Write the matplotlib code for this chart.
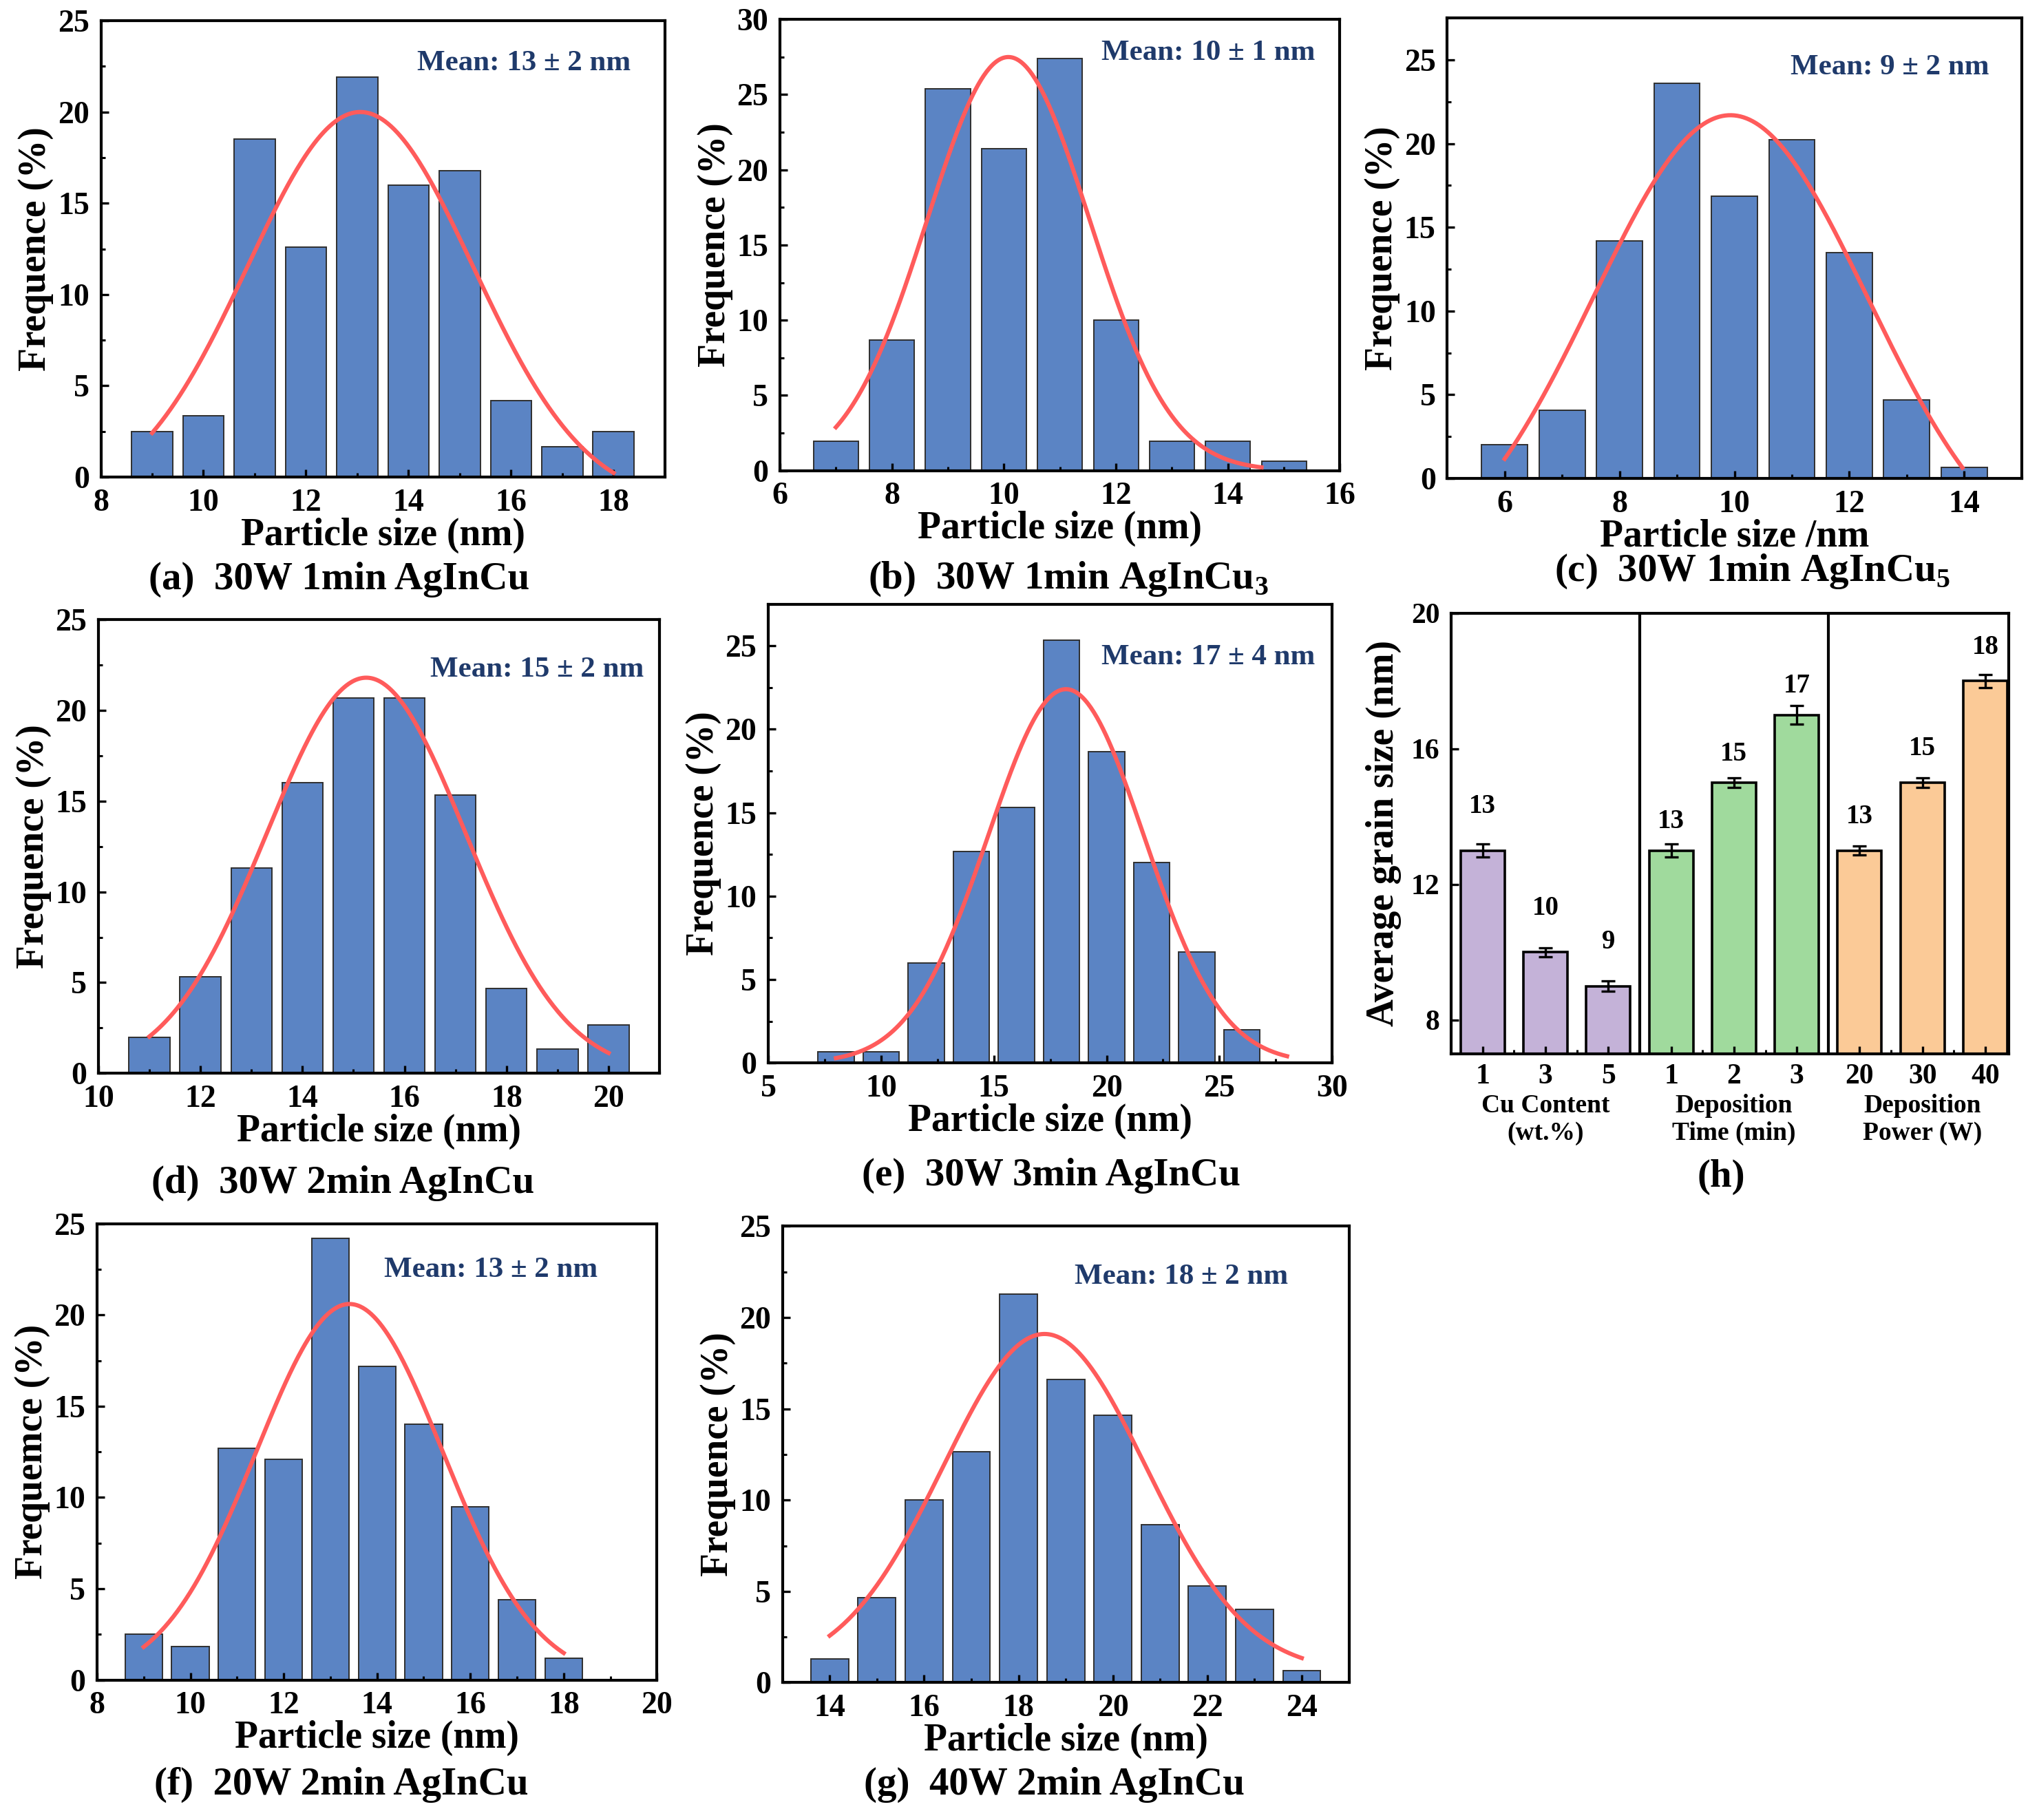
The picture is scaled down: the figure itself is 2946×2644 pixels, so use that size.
import numpy as np
import matplotlib
matplotlib.use('Agg')
import matplotlib.pyplot as plt
from matplotlib.ticker import MultipleLocator, FixedLocator

plt.rcParams['font.family'] = ['Liberation Serif', 'DejaVu Serif']
plt.rcParams['font.weight'] = 'bold'
plt.rcParams['axes.labelweight'] = 'bold'
plt.rcParams['mathtext.fontset'] = 'custom'
plt.rcParams['mathtext.rm'] = 'Liberation Serif:bold'
plt.rcParams['mathtext.bf'] = 'Liberation Serif:bold'

# (a) 30W 1min AgInCu
a_size = [9, 10, 11, 12, 13, 14, 15, 16, 17, 18]
a_freq = [2.5, 3.35, 18.5, 12.6, 21.9, 16.0, 16.8, 4.2, 1.65, 2.5]
a_fit = [13.06, 21.5, 2.2, -1.5, 9, 18]   # xc, A, sigma, y0, x from, x to

# (b) 30W 1min AgInCu3
b_size = [7, 8, 9, 10, 11, 12, 13, 14, 15]
b_freq = [1.95, 8.7, 25.4, 21.4, 27.4, 10.0, 1.95, 1.95, 0.6]
b_fit = [10.08, 27.5, 1.45, 0.0, 7, 14.6]

# (c) 30W 1min AgInCu5
c_size = [6, 7, 8, 9, 10, 11, 12, 13, 14]
c_freq = [2.0, 4.05, 14.2, 23.6, 16.85, 20.25, 13.5, 4.7, 0.66]
c_fit = [9.93, 27.7, 2.39, -6.0, 6, 13.97]

# (d) 30W 2min AgInCu
d_size = [11, 12, 13, 14, 15, 16, 17, 18, 19, 20]
d_freq = [1.97, 5.33, 11.33, 16.0, 20.67, 20.67, 15.33, 4.67, 1.33, 2.67]
d_fit = [15.25, 21.8, 1.95, 0.0, 11, 20]

# (e) 30W 3min AgInCu
e_size = [8, 10, 12, 14, 16, 18, 20, 22, 24, 26]
e_freq = [0.67, 0.67, 6.0, 12.67, 15.33, 25.33, 18.67, 12.0, 6.67, 2.0]
e_fit = [18.2, 22.4, 3.46, 0.0, 8, 28]

# (f) 20W 2min AgInCu
f_size = [9, 10, 11, 12, 13, 14, 15, 16, 17, 18]
f_freq = [2.5, 1.85, 12.7, 12.1, 24.2, 17.2, 14.0, 9.5, 4.4, 1.2]
f_fit = [13.41, 20.6, 2.0, 0.0, 9, 18]

# (g) 40W 2min AgInCu
g_size = [14, 15, 16, 17, 18, 19, 20, 21, 22, 23, 24]
g_freq = [1.3, 4.65, 10.0, 12.65, 21.3, 16.6, 14.65, 8.65, 5.3, 4.0, 0.65]
g_fit = [18.55, 18.5, 2.15, 0.6, 14, 24]

# (h) average grain size
h_ticklabels = ['1', '3', '5', '1', '2', '3', '20', '30', '40']
h_size = [13, 10, 9, 13, 15, 17, 13, 15, 18]
h_err = [0.19, 0.13, 0.15, 0.19, 0.14, 0.28, 0.14, 0.14, 0.19]
h_groups = ['Cu Content\n(wt.%)', 'Deposition\nTime (min)', 'Deposition\nPower (W)']
h_colors = ['#C4B2D8', '#A0DA9D', '#FBCA97']

BLUE = '#5B84C4'
RED = '#FF5B5B'
NAVY = '#1F3A6B'

W, H = 1568, 1404


def rect(l, r, t, b):
    return [l / W, 1 - b / H, (r - l) / W, (b - t) / H]


def style(ax):
    ax.set_axisbelow(False)
    for s in ax.spines.values():
        s.set_linewidth(1.5)
    ax.tick_params(which='major', direction='in', length=3.8, width=1.2,
                   labelsize=16.5, top=False, right=False, pad=6)
    ax.tick_params(which='minor', direction='in', length=2.0, width=1.1,
                   top=False, right=False)


def hist_panel(box, sizes, freqs, width, fit, xlim, xstep, xminor, ylim, ystep,
               xlabel, ylabel, mean_txt, mean_xy, caption, cap_xy):
    ax = fig.add_axes(rect(*box))
    ax.bar(sizes, freqs, width=width, color=BLUE, edgecolor='#2F2F2F',
           linewidth=0.7, zorder=2)
    xc, amp, sig, y0, x0, x1 = fit
    xs = np.linspace(x0, x1, 300)
    ax.plot(xs, y0 + amp * np.exp(-(xs - xc) ** 2 / (2 * sig ** 2)),
            color=RED, lw=2.2, zorder=3)
    ax.set_xlim(*xlim)
    ax.set_ylim(*ylim)
    ax.xaxis.set_major_locator(MultipleLocator(xstep))
    ax.xaxis.set_minor_locator(MultipleLocator(xminor))
    ax.yaxis.set_major_locator(MultipleLocator(ystep))
    ax.yaxis.set_minor_locator(MultipleLocator(ystep / 2))
    style(ax)
    ax.set_xlabel(xlabel, fontsize=20, labelpad=0)
    ax.set_ylabel(ylabel, fontsize=20, labelpad=2)
    ax.text(mean_xy[0], mean_xy[1], mean_txt, transform=ax.transAxes,
            ha='right', va='center', fontsize=15.5, color=NAVY)
    fig.text(cap_xy[0] / W, 1 - cap_xy[1] / H, caption, ha='center',
             va='center', fontsize=20.5)
    return ax


fig = plt.figure(figsize=(14.73, 13.22), dpi=200)

hist_panel((78, 514, 16, 368), a_size, a_freq, 0.8, a_fit, (8, 19), 2, 1, (0, 25), 5,
           'Particle size (nm)', 'Frequence (%)', 'Mean: 13 ± 2 nm', (0.94, 0.906),
           '(a)  30W 1min AgInCu', (262, 447))
hist_panel((603, 1036, 15, 363), b_size, b_freq, 0.8, b_fit, (6, 16), 2, 1, (0, 30), 5,
           'Particle size (nm)', 'Frequence (%)', 'Mean: 10 ± 1 nm', (0.956, 0.925),
           r'(b)  30W 1min AgInCu$_\mathbf{3}$', (826, 447))
hist_panel((1119, 1563, 14, 369), c_size, c_freq, 0.8, c_fit, (5, 15), 2, 1, (0, 27.5), 5,
           'Particle size /nm', 'Frequence (%)', 'Mean: 9 ± 2 nm', (0.944, 0.893),
           r'(c)  30W 1min AgInCu$_\mathbf{5}$', (1355, 441))
hist_panel((76, 510, 478, 828), d_size, d_freq, 0.8, d_fit, (10, 21), 2, 1, (0, 25), 5,
           'Particle size (nm)', 'Frequence (%)', 'Mean: 15 ± 2 nm', (0.972, 0.889),
           '(d)  30W 2min AgInCu', (265, 913))
hist_panel((594, 1030, 466, 820), e_size, e_freq, 1.6, e_fit, (5, 30), 5, 2.5, (0, 27.5), 5,
           'Particle size (nm)', 'Frequence (%)', 'Mean: 17 ± 4 nm', (0.970, 0.884),
           '(e)  30W 3min AgInCu', (813, 907))
hist_panel((75, 508, 944, 1296), f_size, f_freq, 0.8, f_fit, (8, 20), 2, 1, (0, 25), 5,
           'Particle size (nm)', 'Frequemce (%)', 'Mean: 13 ± 2 nm', (0.894, 0.898),
           '(f)  20W 2min AgInCu', (264, 1377))
hist_panel((605, 1043, 946, 1298), g_size, g_freq, 0.8, g_fit, (13, 25), 2, 1, (0, 25), 5,
           'Particle size (nm)', 'Frequence (%)', 'Mean: 18 ± 2 nm', (0.893, 0.889),
           '(g)  40W 2min AgInCu', (815, 1377))

# (h)
ax = fig.add_axes(rect(1122, 1553, 473, 813))
pos = np.arange(len(h_size))
cols = [h_colors[i // 3] for i in range(len(h_size))]
ax.bar(pos, h_size, width=0.7, color=cols, edgecolor='black', linewidth=1.3, zorder=2)
ax.errorbar(pos, h_size, yerr=h_err, fmt='none', ecolor='black', elinewidth=1.2,
            capsize=3.5, capthick=1.2, zorder=3)
lab_off = [1.3, 0.85, 1.0]
for i, v in enumerate(h_size):
    ax.text(pos[i], v + lab_off[i // 3], str(v), ha='center', va='center', fontsize=14)
for sep in [2.5, 5.5]:
    ax.axvline(sep, color='black', lw=1.5, zorder=4)
ax.set_xlim(-0.5, 8.37)
ax.set_ylim(7, 20)
ax.set_xticks(pos)
ax.set_xticklabels(h_ticklabels)
ax.xaxis.set_minor_locator(FixedLocator(pos[:-1] + 0.5))
ax.yaxis.set_major_locator(MultipleLocator(4))
style(ax)
ax.tick_params(axis='both', labelsize=15)
ax.tick_params(axis='x', pad=5)
ax.set_ylabel('Average grain size (nm)', fontsize=20, labelpad=5)
for g, name in enumerate(h_groups):
    ax.text(pos[3 * g + 1], -0.09, name, transform=ax.get_xaxis_transform(),
            ha='center', va='top', fontsize=13.5, linespacing=1.2)
fig.text(1331 / W, 1 - 908 / H, '(h)', ha='center', va='center', fontsize=20.5)

fig.savefig('out.png', dpi=200)
